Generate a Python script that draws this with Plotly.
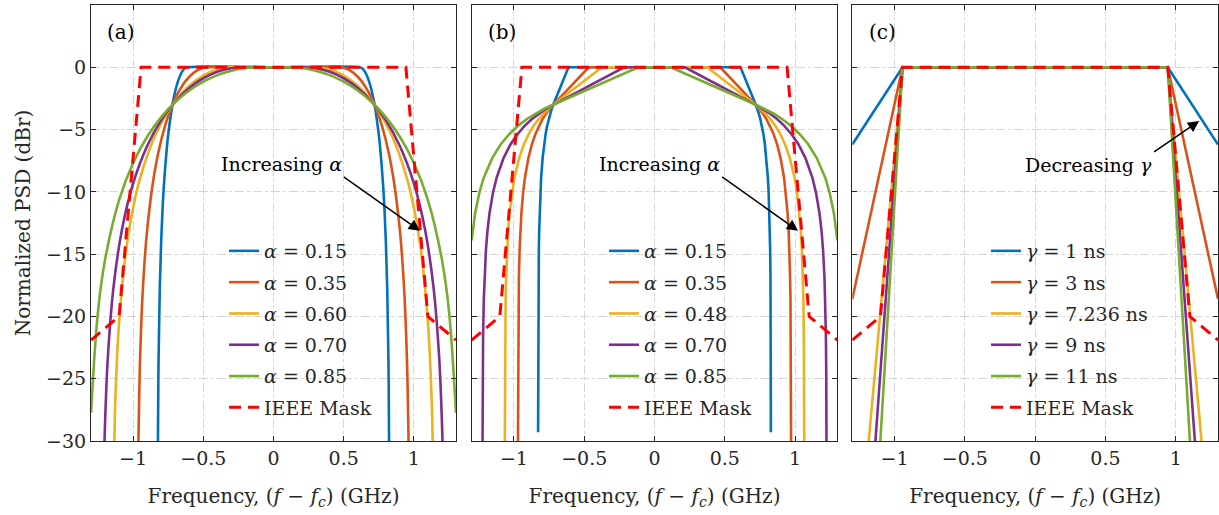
import plotly.graph_objects as go

# ---------------- data (right half, mirrored about f = 0) ----------------
# Panel (a): alpha values and PSD (dBr) vs frequency (GHz)
a_labels = ["0.15", "0.35", "0.60", "0.70", "0.85"]
a_x015 = [0, 0.612, 0.63, 0.65, 0.68, 0.70, 0.72, 0.75, 0.76, 0.78, 0.79, 0.80, 0.81, 0.82, 0.825]
a_y015 = [0, 0, -0.08, -0.33, -1.11, -1.92, -3.01, -5.40, -6.48, -9.35, -11.3, -13.9, -17.7, -24.7, -33.2]
a_x035 = [0, 0.468, 0.50, 0.55, 0.60, 0.65, 0.70, 0.75, 0.80, 0.85, 0.90, 0.93, 0.95, 0.96, 0.965, 0.97]
a_y035 = [0, 0, -0.04, -0.29, -0.76, -1.48, -2.50, -3.90, -5.84, -8.60, -13.06, -17.69, -23.27, -28.57, -33.2, -44]
a_x060 = [0, 0.288, 0.35, 0.45, 0.55, 0.65, 0.75, 0.85, 0.95, 1.00, 1.05, 1.10, 1.12, 1.13, 1.14]
a_y060 = [0, 0, -0.06, -0.38, -1.03, -2.03, -3.51, -5.66, -8.89, -11.28, -14.68, -20.50, -24.72, -27.96, -33.2]
a_x070 = [0, 0.216, 0.3, 0.4, 0.5, 0.6, 0.7, 0.8, 0.9, 1.0, 1.08, 1.14, 1.18, 1.20, 1.21]
a_y070 = [0, 0, -0.08, -0.36, -0.88, -1.66, -2.75, -4.24, -6.32, -9.32, -13.06, -17.69, -23.27, -28.57, -33.2]
a_x085 = [0, 0.108, 0.2, 0.3, 0.4, 0.5, 0.6, 0.7, 0.8, 0.9, 1.0, 1.1, 1.2, 1.25, 1.3]
a_y085 = [0, 0, -0.06, -0.27, -0.63, -1.15, -1.86, -2.79, -4.00, -5.58, -7.69, -10.66, -15.46, -19.57, -27.74]

# Panel (b)
b_labels = ["0.15", "0.35", "0.48", "0.70", "0.85"]
b_x015 = [0, 0.612, 0.72, 0.7308, 0.7416, 0.7524, 0.7632, 0.774, 0.7848, 0.7956, 0.8064, 0.8118, 0.8172,
          0.8204, 0.8226, 0.8248, 0.8258, 0.8269, 0.8275, 0.8278]
b_y015 = [0, 0, -3.01, -3.33, -3.71, -4.15, -4.68, -5.33, -6.16, -7.27, -8.88, -10.06, -11.74,
          -13.24, -14.67, -16.87, -18.61, -21.61, -24.61, -29.3]
b_x035 = [0, 0.468, 0.72, 0.7452, 0.7704, 0.7956, 0.8208, 0.846, 0.8712, 0.8964, 0.9216, 0.9342, 0.9468,
          0.9544, 0.9594, 0.9644, 0.9670, 0.9695, 0.9707, 0.9717]
b_y035 = [0, 0, -3.01, -3.33, -3.71, -4.15, -4.68, -5.33, -6.16, -7.27, -8.88, -10.06, -11.74,
          -13.24, -14.67, -16.87, -18.61, -21.61, -24.61, -31.6]
b_x048 = [0, 0.3744, 0.72, 0.7546, 0.7891, 0.8237, 0.8582, 0.8928, 0.9274, 0.9619, 0.9965, 1.0138, 1.0310,
          1.0414, 1.0483, 1.0552, 1.0587, 1.0621, 1.0639, 1.0653]
b_y048 = [0, 0, -3.01, -3.33, -3.71, -4.15, -4.68, -5.33, -6.16, -7.27, -8.88, -10.06, -11.74,
          -13.24, -14.67, -16.87, -18.61, -21.61, -24.61, -31.6]
b_x070 = [0, 0.216, 0.72, 0.7704, 0.8208, 0.8712, 0.9216, 0.972, 1.0224, 1.0728, 1.1232, 1.1484, 1.1736,
          1.1887, 1.1988, 1.2089, 1.2139, 1.219, 1.2215, 1.2235]
b_y070 = [0, 0, -3.01, -3.33, -3.71, -4.15, -4.68, -5.33, -6.16, -7.27, -8.88, -10.06, -11.74,
          -13.24, -14.67, -16.87, -18.61, -21.61, -24.61, -31.6]
b_x085 = [0, 0.115, 0.722, 0.784, 0.846, 0.907, 0.969, 1.030, 1.092, 1.153, 1.215, 1.245, 1.276, 1.3]
b_y085 = [0, 0, -3.01, -3.33, -3.71, -4.15, -4.68, -5.33, -6.16, -7.27, -8.88, -10.06, -11.74, -13.9]

# Panel (c): gamma values (ns)
c_labels = ["1", "3", "7.236", "9", "11"]
c_x = [0, 0.943, 1.3]
c_y1 = [0, 0, -6.2]
c_y3 = [0, 0, -18.6]
c_y7 = [0, 0, -44.6]
c_y9 = [0, 0, -55.6]
c_y11 = [0, 0, -68.0]

# IEEE spectral mask
mask_x = [0, 0.943, 1.10, 1.3]
mask_y = [0, 0, -20, -21.9]

x_ticks = [-1, -0.5, 0, 0.5, 1]
y_ticks = [-30, -25, -20, -15, -10, -5, 0]

colors = ["#0072BD", "#D95319", "#EDB120", "#7E2F8E", "#77AC30"]
MASK_COLOR = "#FF0000"
FONT = "DejaVu Serif, Liberation Serif, serif"
TXT = "#262626"


def mirror(xs, ys):
    return [-v for v in xs[::-1]] + xs[1:], ys[::-1] + ys[1:]


fig = go.Figure()

W, H = 1219, 515
ML, MR, MT, MB = 91, 1, 5, 74
PW = W - ML - MR
PH = H - MT - MB
domains = [
    [0.0, 365 / PW],
    [380.7 / PW, 746.3 / PW],
    [761.3 / PW, 1.0],
]

panels = [
    ("x", "y", "legend", "α", "", a_labels,
     [(a_x015, a_y015), (a_x035, a_y035), (a_x060, a_y060), (a_x070, a_y070), (a_x085, a_y085)], "spline"),
    ("x2", "y2", "legend2", "α", "", b_labels,
     [(b_x015, b_y015), (b_x035, b_y035), (b_x048, b_y048), (b_x070, b_y070), (b_x085, b_y085)], "linear"),
    ("x3", "y3", "legend3", "γ", " ns", c_labels,
     [(c_x, c_y1), (c_x, c_y3), (c_x, c_y7), (c_x, c_y9), (c_x, c_y11)], "linear"),
]

for pi, (xa, ya, lg, sym, unit, labels, series, shape) in enumerate(panels):
    for k, ((xs, ys), lab, col) in enumerate(zip(series, labels, colors)):
        fx, fy = mirror(xs, ys)
        fig.add_trace(go.Scatter(
            x=fx, y=fy, mode="lines", xaxis=xa, yaxis=ya, legend=lg,
            legendgroup=f"p{pi}s{k}",
            name=f"<i>{sym}</i> = {lab}{unit}",
            line=dict(color=col, width=2.6, shape=shape),
        ))
    mx, my = mirror(mask_x, mask_y)
    fig.add_trace(go.Scatter(
        x=mx, y=my, mode="lines", xaxis=xa, yaxis=ya, legend=lg,
        legendgroup=f"p{pi}mask",
        name="IEEE Mask",
        line=dict(color=MASK_COLOR, width=3, dash="12px,7px"),
    ))

axis_common = dict(
    showline=True, linecolor=TXT, linewidth=1, mirror="ticks",
    ticks="inside", ticklen=5, tickcolor=TXT, tickwidth=1,
    showgrid=True, gridcolor="#d6d6d6", gridwidth=1, griddash="dashdot",
    zeroline=False, tickfont=dict(family=FONT, size=19, color=TXT),
)

xtitle = "Frequency, (<i>f</i> − <i>f<sub>c</sub></i>) (GHz)"
layout = dict(
    width=W, height=H,
    margin=dict(l=ML, r=MR, t=MT, b=MB, pad=0),
    paper_bgcolor="white", plot_bgcolor="white",
    font=dict(family=FONT, size=19, color=TXT),
)
for i, (xa, ya) in enumerate([("x", "y"), ("x2", "y2"), ("x3", "y3")]):
    xk = "xaxis" if i == 0 else f"xaxis{i+1}"
    yk = "yaxis" if i == 0 else f"yaxis{i+1}"
    layout[xk] = dict(axis_common, domain=domains[i], range=[-1.3, 1.3], tickvals=x_ticks,
                      anchor=ya, title=dict(text=xtitle, font=dict(family=FONT, size=20, color=TXT), standoff=21))
    layout[yk] = dict(axis_common, domain=[0, 1], range=[-30, 5], tickvals=y_ticks,
                      anchor=xa, showticklabels=(i == 0))
layout["yaxis"]["title"] = dict(text="Normalized PSD (dBr)", font=dict(family=FONT, size=20, color=TXT), standoff=10)

leg_common = dict(
    font=dict(family=FONT, size=19, color=TXT), bgcolor="rgba(0,0,0,0)",
    borderwidth=0, xanchor="left", yanchor="top", itemwidth=30, tracegroupgap=3.6,
)
legend_left_px = [224, 604, 986]
for i, lk in enumerate(["legend", "legend2", "legend3"]):
    layout[lk] = dict(leg_common, x=(legend_left_px[i] - ML) / PW, y=(MT + PH - 232) / PH)

fig.update_layout(**layout)

for i, (xa, ya) in enumerate([("x", "y"), ("x2", "y2"), ("x3", "y3")]):
    fig.add_annotation(x=-1.085, y=2.8, xref=xa, yref=ya, text="(" + "abc"[i] + ")",
                       showarrow=False, font=dict(family=FONT, size=20, color="black"))

ann_font = dict(family=FONT, size=19, color="black")
# (axis, text, head x, head y, tail x, tail y, text anchor at tail)
arrows = [("x", "y", "Increasing <i>α</i>", 1.043, -13.13, 0.50, -8.80, "bottom"),
          ("x2", "y2", "Increasing <i>α</i>", 1.021, -13.13, 0.481, -8.80, "bottom"),
          ("x3", "y3", "Decreasing <i>γ</i>", 1.166, -4.31, 0.846, -6.80, "top")]
for xa, ya, txt, hx, hy, tx, ty, yanc in arrows:
    fig.add_annotation(x=hx, y=hy, ax=tx, ay=ty, xref=xa, yref=ya, axref=xa, ayref=ya,
                       text=txt, font=ann_font, xanchor="right", yanchor=yanc,
                       showarrow=True, arrowhead=2, arrowsize=1.5, arrowwidth=1.5,
                       arrowcolor="black", standoff=0)

fig.write_html("out.html")
